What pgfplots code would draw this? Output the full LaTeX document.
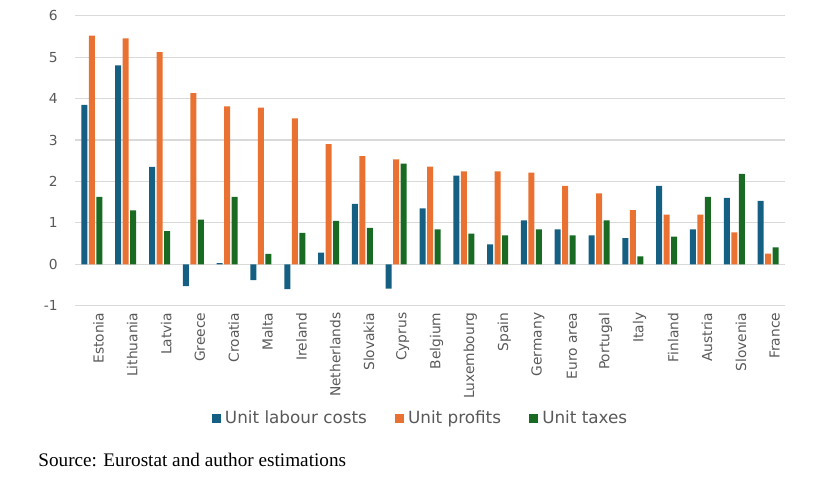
\documentclass[border=0pt]{standalone}
\usepackage{fontspec}
\setmainfont{DejaVu Sans}
\newfontfamily\srcfont{Liberation Serif}
\usepackage{pgfplots}
\pgfplotsset{compat=1.18}
\definecolor{cblue}{HTML}{156082}
\definecolor{corange}{HTML}{E97132}
\definecolor{cgreen}{HTML}{196B24}
\definecolor{tgray}{HTML}{595959}
\definecolor{ggray}{HTML}{D9D9D9}
\begin{document}
\begin{tikzpicture}[x=1pt,y=1pt]
\useasboundingbox (-37.5,-86.65) rectangle (381,152.85);
\begin{axis}[
  at={(0,0)}, anchor=south west,
  scale only axis,
  width=355pt, height=145pt,
  ybar=0.75pt, bar width=3pt,
  xmin=-0.5, xmax=20.5,
  ymin=-1, ymax=6,
  ytick={-1,0,1,2,3,4,5,6},
  yticklabels={-1,0,1,2,3,4,5,6},
  xtick={0,...,20},
  xticklabels={Estonia,Lithuania,Latvia,Greece,Croatia,Malta,Ireland,Netherlands,Slovakia,Cyprus,Belgium,Luxembourg,Spain,Germany,Euro area,Portugal,Italy,Finland,Austria,Slovenia,France},
  axis line style={draw=none},
  major tick length=0pt,
  ymajorgrids,
  grid style={ggray, line width=0.6pt},
  yticklabel style={font=\fontsize{6.9}{8}\selectfont, text=tgray, xshift=-5.2pt},
  xticklabel style={font=\fontsize{6.9}{8}\selectfont, text=tgray, rotate=90, anchor=east, yshift=-3.3pt},
  legend style={at={(0.488,-0.39)}, anchor=center, draw=none, fill=none,
    font=\fontsize{8.4}{10}\selectfont, text=tgray,
    legend columns=3,
    /tikz/every even column/.append style={column sep=12pt}},
  legend image code/.code={\fill[#1] (0pt,-2.3pt) rectangle (4.6pt,2.3pt);},
]
\addplot[draw=none, fill=cblue] coordinates {
(0,3.85) (1,4.80) (2,2.35) (3,-0.53) (4,0.03) (5,-0.38) (6,-0.60) (7,0.28) (8,1.46) (9,-0.59)
(10,1.35) (11,2.14) (12,0.48) (13,1.06) (14,0.84) (15,0.70) (16,0.63) (17,1.89) (18,0.84) (19,1.60) (20,1.53)};
\addplot[draw=none, fill=corange] coordinates {
(0,5.52) (1,5.45) (2,5.12) (3,4.13) (4,3.81) (5,3.78) (6,3.52) (7,2.90) (8,2.61) (9,2.53)
(10,2.36) (11,2.24) (12,2.24) (13,2.21) (14,1.89) (15,1.71) (16,1.31) (17,1.20) (18,1.20) (19,0.77) (20,0.26)};
\addplot[draw=none, fill=cgreen] coordinates {
(0,1.63) (1,1.30) (2,0.80) (3,1.08) (4,1.63) (5,0.25) (6,0.76) (7,1.05) (8,0.88) (9,2.43)
(10,0.84) (11,0.74) (12,0.70) (13,0.84) (14,0.70) (15,1.06) (16,0.19) (17,0.67) (18,1.63) (19,2.18) (20,0.41)};
\legend{Unit labour costs, Unit profits, Unit taxes}
\end{axis}
\node[anchor=west, inner sep=0pt, font=\srcfont\fontsize{9.6}{11}\selectfont] at (-18.5,-77.15) {Source: Eurostat and author estimations};
\end{tikzpicture}
\end{document}
